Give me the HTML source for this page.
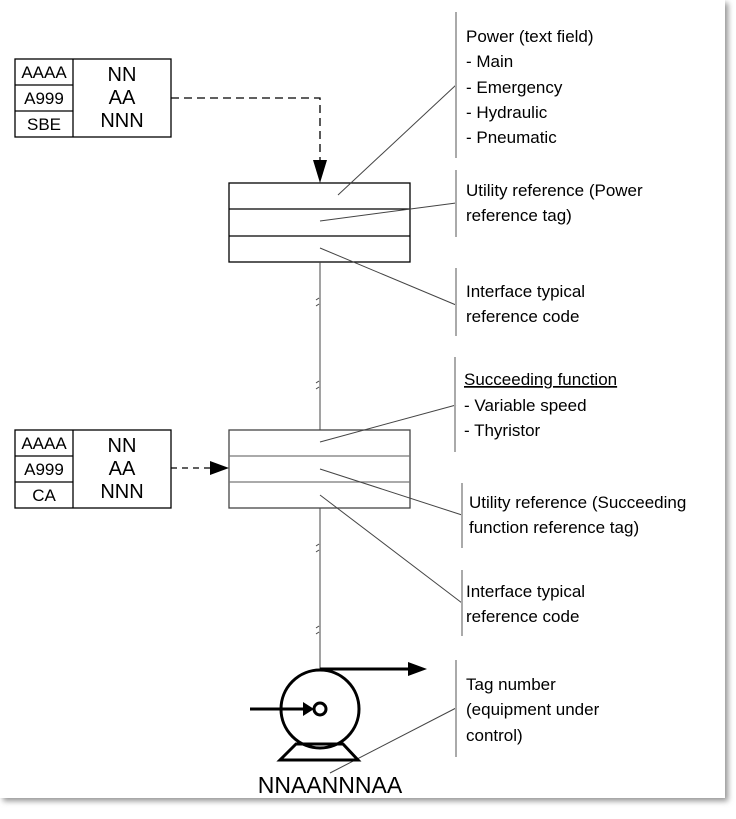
<!DOCTYPE html>
<html><head><style>
body{margin:0;background:#fff;width:736px;height:814px;overflow:hidden}
svg text{font-family:"Liberation Sans",Arial,sans-serif;fill:#000}
</style></head><body>
<svg width="736" height="814" viewBox="0 0 736 814">
<defs><filter id="sh" x="-5%" y="-5%" width="110%" height="110%"><feDropShadow dx="3" dy="3" stdDeviation="3" flood-color="#777" flood-opacity="0.8"/></filter></defs>
<rect x="0" y="0" width="725" height="798" fill="#fff" filter="url(#sh)"/>
<g stroke="#000" fill="none" stroke-width="1.3">
<rect x="15" y="59" width="156" height="78"/><line x1="73" y1="59" x2="73" y2="137"/><line x1="15" y1="85" x2="73" y2="85"/><line x1="15" y1="111" x2="73" y2="111"/>
<rect x="15" y="430" width="156" height="78"/><line x1="73" y1="430" x2="73" y2="508"/><line x1="15" y1="456" x2="73" y2="456"/><line x1="15" y1="482" x2="73" y2="482"/>
<rect x="229" y="183" width="181" height="79"/><line x1="229" y1="209" x2="410" y2="209"/><line x1="229" y1="236" x2="410" y2="236"/>
<rect x="229" y="430" width="181" height="78" stroke="#444"/><line x1="229" y1="456" x2="410" y2="456" stroke="#777"/><line x1="229" y1="482" x2="410" y2="482" stroke="#777"/>
<path d="M171 98H320V162" stroke-dasharray="8,5"/>
<path d="M171 468H212" stroke-dasharray="6,5"/>
</g>
<polygon points="313,160 327,160 320,183" fill="#000"/>
<polygon points="210,461 229,468 210,475" fill="#000"/>
<g stroke="#444" stroke-width="1" fill="none">
<line x1="320" y1="262" x2="320" y2="430"/><line x1="320" y1="508" x2="320" y2="669"/>
<path d="M316 300l3 -2 M316 306l3 -2"/><path d="M316 383l3 -2 M316 389l3 -2"/>
<path d="M316 546l3 -2 M316 552l3 -2"/><path d="M316 628l3 -2 M316 634l3 -2"/>
<line x1="338" y1="195" x2="456" y2="85"/><line x1="320" y1="221" x2="456" y2="203"/><line x1="320" y1="248" x2="456" y2="305"/>
<line x1="320" y1="442" x2="456" y2="405"/><line x1="320" y1="469" x2="462" y2="515"/><line x1="320" y1="495" x2="462" y2="603"/>
<line x1="330" y1="773" x2="456" y2="708"/>
</g>
<g stroke="#aaa" stroke-width="2">
<line x1="456" y1="12" x2="456" y2="158"/><line x1="456" y1="170" x2="456" y2="237"/><line x1="456" y1="268" x2="456" y2="336"/>
<line x1="455" y1="357" x2="455" y2="452"/><line x1="462" y1="483" x2="462" y2="548"/><line x1="462" y1="570" x2="462" y2="636"/>
<line x1="456" y1="660" x2="456" y2="757"/>
</g>
<g stroke="#000" stroke-width="3" fill="none">
<circle cx="320" cy="709" r="39"/><circle cx="320" cy="709" r="6"/>
<line x1="320" y1="669" x2="410" y2="669"/><line x1="250" y1="709" x2="304" y2="709"/>
<polygon points="296,744 280,760 358,760 343,744"/>
</g>
<polygon points="408,662 427,669 408,676" fill="#000"/>
<polygon points="303,702 314,709 303,716" fill="#000"/>
<g font-size="17" text-anchor="middle">
<text x="44" y="78">AAAA</text><text x="44" y="104">A999</text><text x="44" y="130">SBE</text>
<text x="44" y="449">AAAA</text><text x="44" y="475">A999</text><text x="44" y="501">CA</text>
</g>
<g font-size="20" text-anchor="middle">
<text x="122" y="81">NN</text><text x="122" y="104">AA</text><text x="122" y="127">NNN</text>
<text x="122" y="452">NN</text><text x="122" y="475">AA</text><text x="122" y="498">NNN</text>
</g>
<text x="330" y="793" font-size="23" text-anchor="middle">NNAANNNAA</text>
<g font-size="17">
<text x="466" y="42">Power (text field)</text><text x="466" y="67">- Main</text><text x="466" y="93">- Emergency</text><text x="466" y="118">- Hydraulic</text><text x="466" y="143">- Pneumatic</text>
<text x="466" y="196">Utility reference (Power</text><text x="466" y="221">reference tag)</text>
<text x="466" y="297">Interface typical</text><text x="466" y="322">reference code</text>
<text x="464" y="385" text-decoration="underline">Succeeding function</text><text x="464" y="411">- Variable speed</text><text x="464" y="436">- Thyristor</text>
<text x="469" y="508">Utility reference (Succeeding</text><text x="469" y="533">function reference tag)</text>
<text x="466" y="597">Interface typical</text><text x="466" y="622">reference code</text>
<text x="466" y="690">Tag number</text><text x="466" y="715">(equipment under</text><text x="466" y="741">control)</text>
</g>
</svg>
</body></html>
